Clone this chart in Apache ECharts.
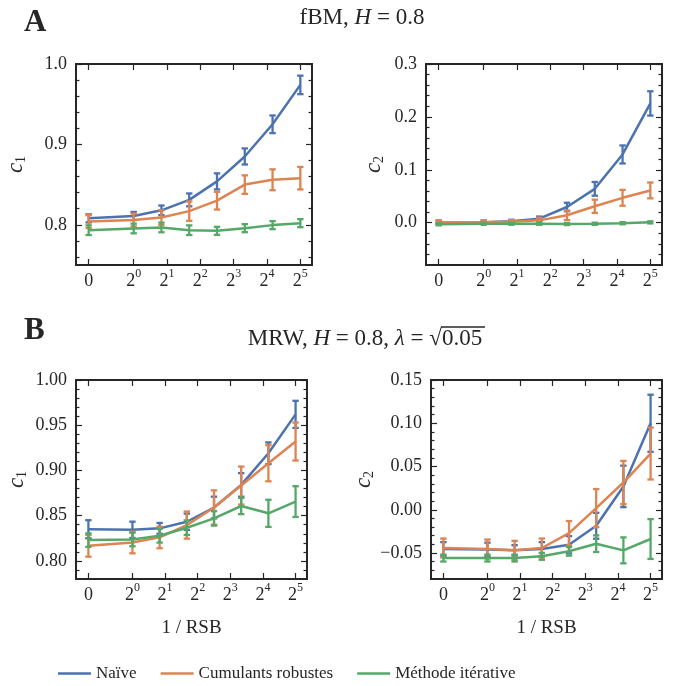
<!DOCTYPE html>
<html><head><meta charset="utf-8">
<script src="https://cdn.jsdelivr.net/npm/echarts@6/dist/echarts.min.js"></script>
<style>html,body{margin:0;padding:0;background:#fff}#c{width:678px;height:686px}</style>
</head><body><div id="c"></div>
<script>
const methods = ['Naïve', 'Cumulants robustes', 'Méthode itérative'];
const colors = ['#4c72b0', '#dd8452', '#55a868'];
// x positions on the symlog-like axis (log2 of 1/RSB; the value 0 sits at -1.35)
const xPos = [-1.35, 0, 0.833, 1.667, 2.5, 3.333, 4.167, 5];
const xTickPos = [-1.35, 0, 1, 2, 3, 4, 5];
const xTickExp = [null, '0', '1', '2', '3', '4', '5'];

// A: fBM, c1
const fbmC1Naive = [0.808, 0.811, 0.818, 0.831, 0.854, 0.885, 0.925, 0.974];
const fbmC1NaiveErr = [0.005, 0.005, 0.006, 0.008, 0.010, 0.010, 0.011, 0.0115];
const fbmC1Robust = [0.804, 0.806, 0.809, 0.817, 0.830, 0.850, 0.856, 0.858];
const fbmC1RobustErr = [0.008, 0.008, 0.009, 0.012, 0.011, 0.0115, 0.013, 0.014];
const fbmC1Iter = [0.7933, 0.7954, 0.7967, 0.7933, 0.7925, 0.7958, 0.7996, 0.802];
const fbmC1IterErr = [0.006, 0.006, 0.006, 0.006, 0.005, 0.005, 0.005, 0.005];
// A: fBM, c2
const fbmC2Naive = [0.001, 0.001, 0.0025, 0.0076, 0.0297, 0.064, 0.129, 0.2255];
const fbmC2NaiveErr = [0.003, 0.003, 0.003, 0.004, 0.008, 0.013, 0.017, 0.023];
const fbmC2Robust = [0.001, 0.001, 0.002, 0.0044, 0.014, 0.031, 0.047, 0.061];
const fbmC2RobustErr = [0.003, 0.003, 0.003, 0.005, 0.009, 0.0125, 0.015, 0.015];
const fbmC2Iter = [-0.003, -0.002, -0.002, -0.002, -0.0025, -0.002, -0.001, 0.0006];
const fbmC2IterErr = [0.002, 0.002, 0.002, 0.002, 0.002, 0.002, 0.002, 0.002];
// B: MRW, c1
const mrwC1Naive = [0.835, 0.8344, 0.836, 0.8433, 0.859, 0.884, 0.919, 0.962];
const mrwC1NaiveErr = [0.010, 0.009, 0.006, 0.009, 0.012, 0.013, 0.012, 0.015];
const mrwC1Robust = [0.8167, 0.8204, 0.826, 0.8396, 0.859, 0.8833, 0.908, 0.932];
const mrwC1RobustErr = [0.012, 0.012, 0.012, 0.015, 0.019, 0.021, 0.020, 0.021];
const mrwC1Iter = [0.823, 0.8237, 0.8278, 0.8367, 0.847, 0.8607, 0.8526, 0.8656];
const mrwC1IterErr = [0.0075, 0.0075, 0.0075, 0.008, 0.008, 0.009, 0.015, 0.017];
// B: MRW, c2
const mrwC2Naive = [-0.0454, -0.046, -0.0469, -0.0454, -0.0404, -0.0185, 0.027, 0.100];
const mrwC2NaiveErr = [0.008, 0.008, 0.006, 0.008, 0.010, 0.015, 0.024, 0.033];
const mrwC2Robust = [-0.0442, -0.0454, -0.0469, -0.0442, -0.027, 0.002, 0.0315, 0.065];
const mrwC2RobustErr = [0.011, 0.011, 0.011, 0.011, 0.014, 0.022, 0.025, 0.030];
const mrwC2Iter = [-0.0558, -0.0558, -0.0558, -0.0538, -0.048, -0.0392, -0.0469, -0.0338];
const mrwC2IterErr = [0.004, 0.004, 0.004, 0.004, 0.005, 0.0096, 0.015, 0.023];

// y-axis ticks
const yMajorA1 = [0.8, 0.9, 1.0];
const yMajorA2 = [0.0, 0.1, 0.2, 0.3];
const yMajorB1 = [0.80, 0.85, 0.90, 0.95, 1.00];
const yMajorB2 = [-0.05, 0.00, 0.05, 0.10, 0.15];

const FONT = '"Liberation Serif", "DejaVu Serif", serif';
const INK = '#262626';

function minorTicks(min, max, step, majors) {
  const out = [];
  const n = Math.round((max - min) / step);
  for (let k = 0; k <= n; k++) {
    const v = +(min + k * step).toFixed(6);
    if (!majors.some(m => Math.abs(m - v) < 1e-9)) out.push(v);
  }
  return out;
}

const panels = [
  { grid: {left: 76, top: 64, width: 236, height: 201}, ymin: 0.75, ymax: 1.0, majors: yMajorA1, minor: minorTicks(0.76, 0.98, 0.02, yMajorA1), dec: 1,
    yname: '{c|c}{s|1}', nameGap: 48, xname: '',
    data: [[fbmC1Naive, fbmC1NaiveErr], [fbmC1Robust, fbmC1RobustErr], [fbmC1Iter, fbmC1IterErr]] },
  { grid: {left: 426, top: 64, width: 236, height: 201}, ymin: -0.08, ymax: 0.3, majors: yMajorA2, minor: minorTicks(-0.06, 0.28, 0.02, yMajorA2), dec: 1,
    yname: '{c|c}{s|2}', nameGap: 40, xname: '',
    data: [[fbmC2Naive, fbmC2NaiveErr], [fbmC2Robust, fbmC2RobustErr], [fbmC2Iter, fbmC2IterErr]] },
  { grid: {left: 76, top: 380, width: 231, height: 199}, ymin: 0.78, ymax: 1.0, majors: yMajorB1, minor: minorTicks(0.79, 0.99, 0.01, yMajorB1), dec: 2,
    yname: '{c|c}{s|1}', nameGap: 47, xname: '1 / RSB',
    data: [[mrwC1Naive, mrwC1NaiveErr], [mrwC1Robust, mrwC1RobustErr], [mrwC1Iter, mrwC1IterErr]] },
  { grid: {left: 431, top: 380, width: 231, height: 199}, ymin: -0.08, ymax: 0.15, majors: yMajorB2, minor: minorTicks(-0.07, 0.14, 0.01, yMajorB2), dec: 2,
    yname: '{c|c}{s|2}', nameGap: 45, xname: '1 / RSB',
    data: [[mrwC2Naive, mrwC2NaiveErr], [mrwC2Robust, mrwC2RobustErr], [mrwC2Iter, mrwC2IterErr]] }
];

const XMIN = -1.73, XMAX = 5.35;

function xLabel(v) {
  let idx = 0, best = 1e9;
  xTickPos.forEach((p, i) => { const d = Math.abs(p - v); if (d < best) { best = d; idx = i; } });
  const e = xTickExp[idx];
  return e === null ? '{b|0}' : '{b|2}{s|' + e + '}';
}

const tickStyle = {color: INK, width: 1.2};
const noLine = {show: false, onZero: false};
const grids = [], xAxes = [], yAxes = [], series = [];

panels.forEach((p, pi) => {
  grids.push(Object.assign({show: true, borderColor: INK, borderWidth: 2, backgroundColor: 'transparent'}, p.grid));
  // bottom x
  xAxes.push({
    gridIndex: pi, type: 'value', min: XMIN, max: XMAX, position: 'bottom',
    axisLine: noLine, splitLine: {show: false},
    axisTick: {show: true, inside: true, length: 6, lineStyle: tickStyle, customValues: xTickPos},
    axisLabel: {show: true, margin: 3, customValues: xTickPos, formatter: xLabel, color: INK,
      rich: {b: {fontSize: 18, fontFamily: FONT, color: INK, lineHeight: 22, verticalAlign: 'bottom'},
             s: {fontSize: 12, fontFamily: FONT, color: INK, lineHeight: 14, verticalAlign: 'top'}}},
    name: p.xname, nameLocation: 'middle', nameGap: 40,
    nameTextStyle: {fontSize: 19, fontFamily: FONT, color: INK}
  });
  // top x
  xAxes.push({
    gridIndex: pi, type: 'value', min: XMIN, max: XMAX, position: 'top',
    axisLine: noLine, splitLine: {show: false}, axisLabel: {show: false},
    axisTick: {show: true, inside: true, length: 6, lineStyle: tickStyle, customValues: xTickPos}
  });
  const fmt = v => (v < -1e-9 ? '\u2212' : '') + Math.abs(v).toFixed(p.dec);
  const base = {gridIndex: pi, type: 'value', min: p.ymin, max: p.ymax, axisLine: noLine, splitLine: {show: false}};
  yAxes.push(Object.assign({}, base, {
    position: 'left',
    axisTick: {show: true, inside: true, length: 6, lineStyle: tickStyle, customValues: p.majors},
    axisLabel: {show: true, margin: 9, customValues: p.majors, formatter: fmt, color: INK, fontSize: 18, fontFamily: FONT},
    name: p.yname, nameLocation: 'middle', nameGap: p.nameGap, nameRotate: 90,
    nameTextStyle: {rich: {
      c: {fontSize: 23, fontStyle: 'italic', fontFamily: FONT, color: INK, lineHeight: 24, verticalAlign: 'top'},
      s: {fontSize: 14, fontFamily: FONT, color: INK, lineHeight: 24, verticalAlign: 'bottom'}}}
  }));
  yAxes.push(Object.assign({}, base, {
    position: 'left', axisLabel: {show: false},
    axisTick: {show: true, inside: true, length: 3.5, lineStyle: tickStyle, customValues: p.minor}
  }));
  yAxes.push(Object.assign({}, base, {
    position: 'right', axisLabel: {show: false},
    axisTick: {show: true, inside: true, length: 6, lineStyle: tickStyle, customValues: p.majors}
  }));
  yAxes.push(Object.assign({}, base, {
    position: 'right', axisLabel: {show: false},
    axisTick: {show: true, inside: true, length: 3.5, lineStyle: tickStyle, customValues: p.minor}
  }));

  p.data.forEach((d, mi) => {
    const vals = d[0], errs = d[1];
    series.push({
      type: 'line', name: methods[mi], xAxisIndex: 2 * pi, yAxisIndex: 4 * pi,
      data: xPos.map((x, i) => [x, vals[i]]),
      symbol: 'none', smooth: false, color: colors[mi],
      lineStyle: {width: 2.5, color: colors[mi]}, z: 3 + 2 * mi, animation: false
    });
    series.push({
      type: 'custom', name: methods[mi], xAxisIndex: 2 * pi, yAxisIndex: 4 * pi,
      data: xPos.map((x, i) => [x, vals[i] - errs[i], vals[i] + errs[i]]),
      encode: {x: 0, y: [1, 2]}, itemStyle: {color: colors[mi]}, z: 3 + 2 * mi, animation: false,
      renderItem: function (params, api) {
        const x = api.value(0);
        const a = api.coord([x, api.value(1)]), b = api.coord([x, api.value(2)]);
        const cw = 3.2;
        const st = {stroke: colors[mi], lineWidth: 2.3};
        return {type: 'group', children: [
          {type: 'line', shape: {x1: a[0], y1: a[1], x2: b[0], y2: b[1]}, style: st},
          {type: 'line', shape: {x1: a[0] - cw, y1: a[1], x2: a[0] + cw, y2: a[1]}, style: st},
          {type: 'line', shape: {x1: b[0] - cw, y1: b[1], x2: b[0] + cw, y2: b[1]}, style: st}
        ]};
      }
    });
  });
});

const titleRich = {
  n: {fontSize: 23, fontWeight: 'normal', fontFamily: FONT, color: INK},
  i: {fontSize: 23, fontWeight: 'normal', fontStyle: 'italic', fontFamily: FONT, color: INK}
};

const chart = echarts.init(document.getElementById('c'), null, {renderer: 'canvas'});
chart.setOption({
  animation: false,
  backgroundColor: '#ffffff',
  textStyle: {fontFamily: FONT, color: INK},
  title: [
    {text: 'A', left: 24, top: 7, padding: 0, textStyle: {fontSize: 31, fontWeight: 'bold', fontFamily: FONT, color: INK}},
    {text: 'B', left: 24, top: 315, padding: 0, textStyle: {fontSize: 31, fontWeight: 'bold', fontFamily: FONT, color: INK}},
    {text: '{n|fBM, }{i|H}{n| = 0.8}', left: 362, textAlign: 'center', top: 6, padding: 0,
     textStyle: {fontWeight: 'normal', rich: titleRich}},
    {text: '{n|MRW, }{i|H}{n| = 0.8, }{i|λ}{n| = √0.05}', left: 365, textAlign: 'center', top: 327, padding: 0,
     textStyle: {fontWeight: 'normal', rich: titleRich}}
  ],
  graphic: [
    {type: 'line', shape: {x1: 441, y1: 327, x2: 485, y2: 327}, style: {stroke: INK, lineWidth: 1.3}}
  ],
  legend: {
    data: methods, left: 58, top: 665, padding: 0, itemWidth: 33, itemHeight: 14, itemGap: 24,
    icon: 'path://M0,6 L33,6 L33,8.5 L0,8.5 Z',
    textStyle: {fontSize: 17, fontFamily: FONT, color: INK}
  },
  grid: grids, xAxis: xAxes, yAxis: yAxes, series: series
});
</script></body></html>
